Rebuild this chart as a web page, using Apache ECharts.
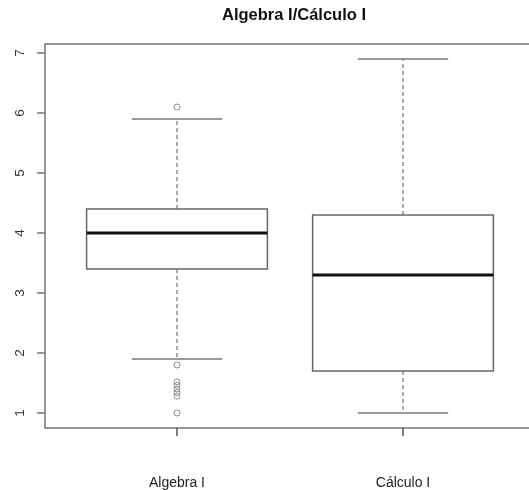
<!DOCTYPE html>
<html>
<head>
<meta charset="utf-8">
<script src="https://cdn.jsdelivr.net/npm/echarts@6/dist/echarts.min.js"></script>
<style>html,body{margin:0;padding:0;background:#fff}#c{width:529px;height:490px}</style>
</head>
<body>
<div id="c"></div>
<script>
// Data
var categories = ['Algebra I', 'Cálculo I'];
// [min whisker, Q1, median, Q3, max whisker]
var algebraStats = [1.9, 3.4, 4.0, 4.4, 5.9];
var calculoStats = [1.0, 1.7, 3.3, 4.3, 6.9];
var algebraOutliers = [6.1, 1.8, 1.52, 1.46, 1.4, 1.34, 1.28, 1.0];
var calculoOutliers = [];
var yTicks = [1, 2, 3, 4, 5, 6, 7];
var titleText = 'Algebra I/Cálculo I';

var statsList = [algebraStats, calculoStats];
var outlierList = [algebraOutliers, calculoOutliers];

var boxData = statsList.map(function (s, i) { return [i + 1].concat(s); });
var outlierData = [];
outlierList.forEach(function (arr, i) {
  arr.forEach(function (v) { outlierData.push([i + 1, v]); });
});

var FONT = 'Liberation Sans, Arial, sans-serif';

function renderBox(params, api) {
  var x = api.value(0);
  var lo = api.value(1), q1 = api.value(2), med = api.value(3), q3 = api.value(4), hi = api.value(5);
  var halfBox = api.size([0.4, 0])[0];
  var halfCap = api.size([0.2, 0])[0];
  var pLo = api.coord([x, lo]), pQ1 = api.coord([x, q1]), pMed = api.coord([x, med]);
  var pQ3 = api.coord([x, q3]), pHi = api.coord([x, hi]);
  var cx = pMed[0];
  var dash = { stroke: '#555', lineWidth: 1, lineDash: [4, 3] };
  var capStyle = { stroke: '#777', lineWidth: 1.5 };
  return {
    type: 'group',
    children: [
      { type: 'line', shape: { x1: cx, y1: pQ3[1], x2: cx, y2: pHi[1] }, style: dash },
      { type: 'line', shape: { x1: cx, y1: pQ1[1], x2: cx, y2: pLo[1] }, style: dash },
      { type: 'line', shape: { x1: cx - halfCap, y1: pHi[1], x2: cx + halfCap, y2: pHi[1] }, style: capStyle },
      { type: 'line', shape: { x1: cx - halfCap, y1: pLo[1], x2: cx + halfCap, y2: pLo[1] }, style: capStyle },
      { type: 'rect', shape: { x: cx - halfBox, y: pQ3[1], width: 2 * halfBox, height: pQ1[1] - pQ3[1] },
        style: { fill: '#fff', stroke: '#666', lineWidth: 1.5 } },
      { type: 'line', shape: { x1: cx - halfBox, y1: pMed[1], x2: cx + halfBox, y2: pMed[1] },
        style: { stroke: '#111', lineWidth: 3 } }
    ]
  };
}

var chart = echarts.init(document.getElementById('c'), null, { renderer: 'canvas' });
chart.setOption({
  animation: false,
  backgroundColor: '#fff',
  title: {
    text: titleText,
    left: 289,
    textAlign: 'center',
    top: 2,
    textStyle: { fontFamily: FONT, fontWeight: 'bold', fontSize: 16.5, color: '#111' }
  },
  grid: {
    left: 45, top: 44, width: 490, height: 384,
    outerBoundsMode: 'none',
    containLabel: false,
    show: true, borderColor: '#777', borderWidth: 1.5, backgroundColor: 'transparent'
  },
  xAxis: {
    type: 'value',
    min: 0.416, max: 2.584,
    splitLine: { show: false },
    axisLine: { show: false },
    axisTick: { show: true, customValues: [1, 2], length: 8, lineStyle: { color: '#555', width: 1.5 } },
    axisLabel: {
      customValues: [1, 2], margin: 48,
      formatter: function (v) { return categories[Math.round(v) - 1]; },
      fontFamily: FONT, fontSize: 14, color: '#222'
    }
  },
  yAxis: {
    type: 'value',
    min: 0.75, max: 7.15,
    splitLine: { show: false },
    axisLine: { show: false },
    axisTick: { show: true, customValues: yTicks, length: 8, lineStyle: { color: '#777', width: 1.5 } },
    axisLabel: {
      customValues: yTicks, rotate: 90, margin: 18,
      fontFamily: FONT, fontSize: 13.5, color: '#333'
    }
  },
  series: [
    {
      type: 'custom',
      renderItem: renderBox,
      data: boxData,
      encode: { x: 0, y: [1, 2, 3, 4, 5] },
      clip: true
    },
    {
      type: 'scatter',
      data: outlierData,
      symbol: 'circle',
      symbolSize: 6,
      itemStyle: { color: 'rgba(255,255,255,0)', borderColor: '#777', borderWidth: 1 },
      z: 5
    }
  ]
});
</script>
</body>
</html>
